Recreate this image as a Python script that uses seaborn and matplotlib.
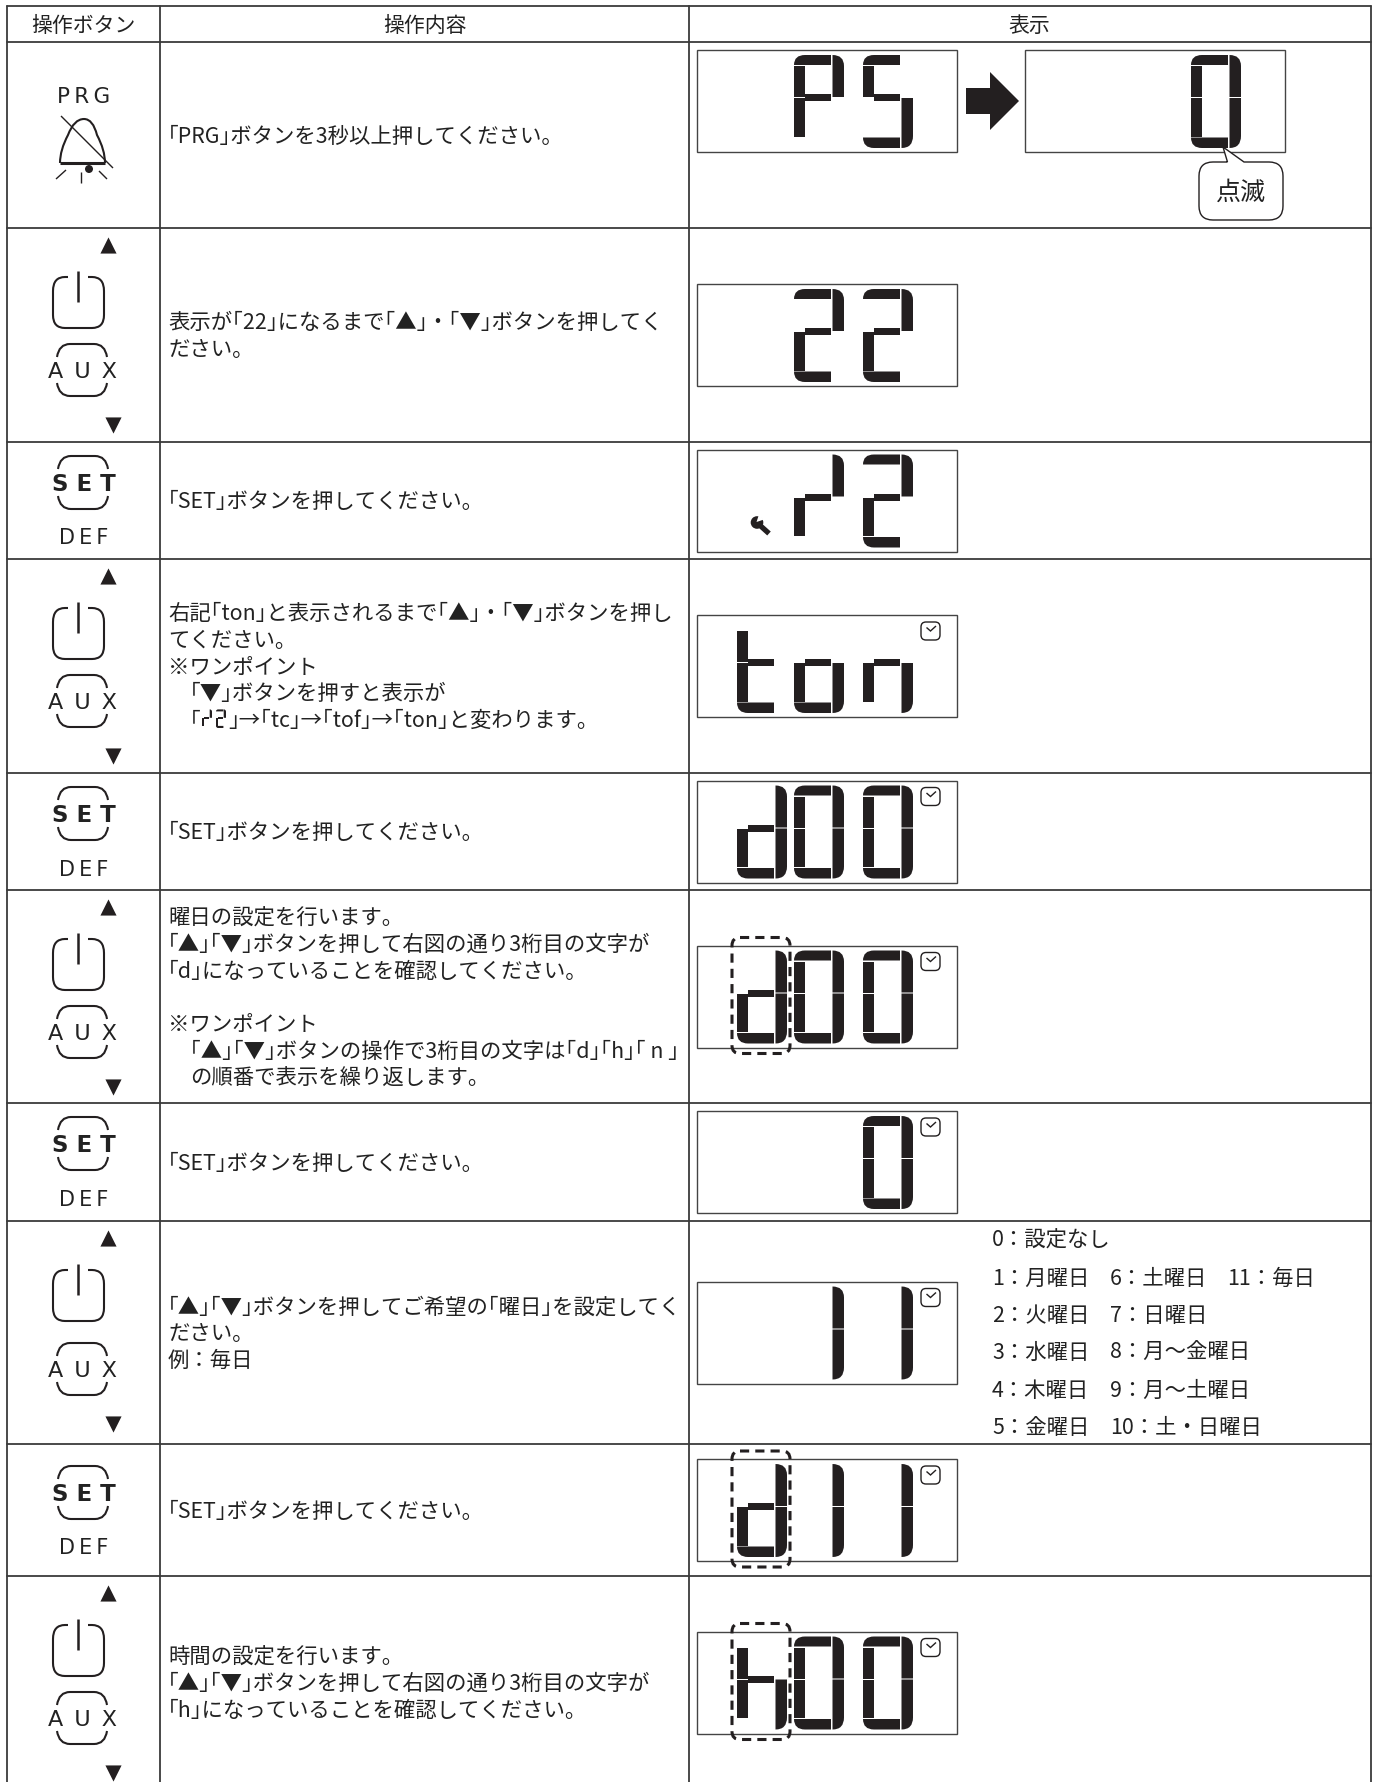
import numpy as np
import pandas as pd
import matplotlib
matplotlib.use('Agg')
import matplotlib.pyplot as plt
import seaborn as sns
from matplotlib.path import Path
from matplotlib.patches import PathPatch, Rectangle, FancyBboxPatch, Polygon, Circle

# TABLE CONTENT
header_labels = ['操作ボタン', '操作内容', '表示']
button_kinds = ['prg', 'updown', 'set', 'updown', 'set', 'updown', 'set', 'updown', 'set', 'updown']
op_lines = [
    ['｢PRG｣ボタンを3秒以上押してください。'],
    ['表示が｢22｣になるまで｢▲｣・｢▼｣ボタンを押してく', 'ださい。'],
    ['｢SET｣ボタンを押してください。'],
    ['右記｢ton｣と表示されるまで｢▲｣・｢▼｣ボタンを押し', 'てください。', '※ワンポイント',
     '　｢▼｣ボタンを押すと表示が', '　｢{r2}｣→｢tc｣→｢tof｣→｢ton｣と変わります。'],
    ['｢SET｣ボタンを押してください。'],
    ['曜日の設定を行います。', '｢▲｣｢▼｣ボタンを押して右図の通り3桁目の文字が',
     '｢d｣になっていることを確認してください。', '', '※ワンポイント',
     '　｢▲｣｢▼｣ボタンの操作で3桁目の文字は｢d｣｢h｣｢ n ｣', '　の順番で表示を繰り返します。'],
    ['｢SET｣ボタンを押してください。'],
    ['｢▲｣｢▼｣ボタンを押してご希望の｢曜日｣を設定してく', 'ださい。', '例：毎日'],
    ['｢SET｣ボタンを押してください。'],
    ['時間の設定を行います。', '｢▲｣｢▼｣ボタンを押して右図の通り3桁目の文字が',
     '｢h｣になっていることを確認してください。'],
]
display_strings = [' PS', ' 22', ' r2', 'ton', 'd00', 'd00', '  0', ' 11', 'd11', 'h00']
clock_rows = [3, 4, 5, 6, 7, 8, 9]
dashed_rows = [5, 8, 9]
weekday_col1 = ['0：設定なし', '1：月曜日', '2：火曜日', '3：水曜日', '4：木曜日', '5：金曜日']
weekday_col2 = ['', '6：土曜日', '7：日曜日', '8：月～金曜日', '9：月～土曜日', '10：土・日曜日']
weekday_col3 = ['', '11：毎日', '', '', '', '']

# which segments are lit for each glyph
glyph_segments = {'P': 'abfge', 'S': 'afgcd', '0': 'abcdef', '2': 'abged', 'r': 'egb', 't': 'fedg',
                  'o': 'egdc', 'n': 'egc', 'd': 'egdbc', '1': 'bc', 'h': 'fegc', ' ': ''}

# LAYOUT (pixels, y down)
col_edges = [7, 160, 689, 1371]
row_edges = [42, 228, 442, 559, 773, 890, 1103, 1221, 1444, 1576, 1789]
INK = '#231f20'
LINE = '#3a3a3a'
FONT_PT = 15.4
STEP = 26.7

sns.set_theme(style='white')
plt.rcParams['font.family'] = ['Noto Sans CJK JP', 'DejaVu Sans']

fig = plt.figure(figsize=(13.75, 17.82), dpi=100)
ax = fig.add_axes([0, 0, 1, 1])
ax.set_xlim(0, 1375)
ax.set_ylim(1782, 0)
ax.axis('off')

# grid lines through seaborn
grid_rows = []
for i, x in enumerate(col_edges):
    grid_rows += [(f'v{i}', x, 6), (f'v{i}', x, 1782)]
for i, y in enumerate([6] + row_edges[:-1]):
    grid_rows += [(f'h{i}', col_edges[0], y), (f'h{i}', col_edges[-1], y)]
grid_df = pd.DataFrame(grid_rows, columns=['line', 'x', 'y'])
sns.lineplot(data=grid_df, x='x', y='y', units='line', estimator=None, sort=False,
             color=LINE, linewidth=1.3, ax=ax, legend=False)
ax.set_xlim(0, 1375)
ax.set_ylim(1782, 0)
ax.axis('off')


def put_text(x, y_center, s, size=FONT_PT, ha='left', **kw):
    # baseline placing, so all the lines sit the same way
    ax.text(x, y_center + size * 100 / 72 * 0.36, s, fontsize=size, ha=ha, va='baseline', color='#222222', **kw)


def stroke(verts, codes=None, lw=1.5, fc='none', ec=INK, zorder=3):
    p = Path(np.array(verts, dtype=float), codes)
    ax.add_patch(PathPatch(p, fc=fc, ec=ec, lw=lw, zorder=zorder, capstyle='butt'))


# SEVEN SEGMENT GLYPHS
M, L, C, Z = Path.MOVETO, Path.LINETO, Path.CURVE3, Path.CLOSEPOLY
segments = {
    'a': ([(0, 15), (0, 5), (11, 5), (37, 5), (37, 15), (0, 15), (0, 15)], [M, C, C, L, L, L, Z]),
    'b': ([(38.5, 5), (50, 5), (50, 16), (50, 47), (38.5, 47), (38.5, 5)], [M, C, C, L, L, Z]),
    'c': ([(38.5, 48), (50, 48), (50, 86), (50, 98), (38.5, 98), (38.5, 48)], [M, L, L, C, C, Z]),
    'd': ([(0, 87.5), (37, 87.5), (37, 98), (11, 98), (0, 98), (0, 87.5), (0, 87.5)], [M, L, L, L, C, C, Z]),
    'e': ([(0, 48), (11, 48), (11, 86.5), (0, 86.5), (0, 48)], [M, L, L, L, Z]),
    'f': ([(0, 16), (11, 16), (11, 47), (0, 47), (0, 16)], [M, L, L, L, Z]),
    'g': ([(11.5, 44), (37, 44), (37, 51), (11.5, 51), (11.5, 44)], [M, L, L, L, Z]),
}


def draw_glyph(ch, x0, y0, scale=1.0):
    for seg in glyph_segments[ch]:
        verts, codes = segments[seg]
        v = np.array(verts, dtype=float) * scale + [x0, y0]
        ax.add_patch(PathPatch(Path(v, codes), fc=INK, ec='none', zorder=4))


def draw_display(x0, y0, text):
    ax.add_patch(Rectangle((x0, y0), 260, 102, fc='none', ec='#444444', lw=1.0, zorder=2))
    for ch, dx in zip(text, [40, 97, 166]):
        draw_glyph(ch, x0 + dx, y0)


def draw_clock(x0, y0):
    ax.add_patch(FancyBboxPatch((x0 + 228, y0 + 11), 11, 10, boxstyle='round,pad=4,rounding_size=5',
                                fc='white', ec=INK, lw=1.0, zorder=4))
    stroke([(x0 + 229.5, y0 + 12.5), (x0 + 233.5, y0 + 16), (x0 + 239, y0 + 11)], lw=1.0, zorder=6)


def draw_dashed(x0, y0):
    ax.add_patch(FancyBboxPatch((x0 + 43, y0), 42, 100, boxstyle='round,pad=8,rounding_size=8', fc='none',
                                ec=INK, lw=2.2, linestyle=(0, (3, 2)), zorder=5))


def draw_wrench(x0, y0):
    stroke([(x0 + 62, y0 + 75), (x0 + 72, y0 + 84)], lw=3.8, zorder=5)
    ax.add_patch(Circle((x0 + 60, y0 + 73), 6.3, fc=INK, ec='none', zorder=5))
    ax.add_patch(Polygon([(x0 + 59.5, y0 + 72.5), (x0 + 62, y0 + 65), (x0 + 67, y0 + 70)], fc='white', ec='none', zorder=6))


# BUTTON ICONS
def draw_arc_pair(x0, x1, y0, y1, y2, y3):
    stroke([(x0, y1), (x0 + 2, y0), (x0 + 13, y0), (x1 - 13, y0), (x1 - 2, y0), (x1, y1)], [M, C, C, L, C, C])
    stroke([(x0, y2), (x0 + 2, y3), (x0 + 13, y3), (x1 - 13, y3), (x1 - 2, y3), (x1, y2)], [M, C, C, L, C, C])


def draw_updown(top, low=0):
    sns.scatterplot(x=[108], y=[top + 17], marker='^', s=135, color=INK, linewidth=0, ax=ax, zorder=4)
    sns.scatterplot(x=[113], y=[top + 197 + low], marker='v', s=135, color=INK, linewidth=0, ax=ax, zorder=4)
    y = top
    stroke([(68, y + 49), (65, y + 49), (53, y + 49), (53, y + 63), (53, y + 87), (53, y + 100), (65, y + 100),
            (92, y + 100), (104, y + 100), (104, y + 87), (104, y + 63), (104, y + 49), (92, y + 49), (88, y + 49)],
           [M, L, C, C, L, C, C, L, C, C, L, C, C, L])
    stroke([(78, y + 43), (78, y + 74)], lw=1.8)
    draw_arc_pair(57, 107, y + 116 + low, y + 129 + low, y + 155 + low, y + 168 + low)
    put_text(82.5, y + 142 + low, 'A\u2002U\u2002X', size=16, ha='center', family='DejaVu Sans')


def draw_set(top):
    draw_arc_pair(58, 108, top + 14, top + 27, top + 54, top + 67)
    put_text(84, top + 41, 'S E T', size=16.5, ha='center', family='DejaVu Sans', fontweight='bold')
    put_text(84, top + 95, 'D\u2009E\u2009F', size=15, ha='center', family='DejaVu Sans')


def draw_prg():
    put_text(84, 95.5, 'P\u2009R\u2009G', size=15.5, ha='center', family='DejaVu Sans')
    # bell
    stroke([(60, 163), (60, 150), (68, 135), (74, 119), (84, 119), (93, 119), (97, 135), (105, 150), (105, 163)],
           [M, C, C, C, C, C, C, C, C], lw=1.5)
    stroke([(60, 163), (105, 163)], lw=2.2)
    stroke([(61, 116), (113, 168)], lw=1.0)
    ax.add_patch(Circle((89, 169), 4, fc=INK, ec='none', zorder=3))
    for seg in [[(56, 179), (66, 170)], [(81, 172), (81, 183)], [(107, 179), (99, 171)]]:
        stroke(seg, lw=1.0)


# HEADER
put_text(83, 24, header_labels[0], size=15, ha='center')
put_text(425, 24, header_labels[1], size=15, ha='center')
put_text(1029, 24, header_labels[2], size=15, ha='center')

# ROWS
for i, kind in enumerate(button_kinds):
    top, bottom = row_edges[i], row_edges[i + 1]
    center = (top + bottom) / 2
    if kind == 'prg':
        draw_prg()
    elif kind == 'updown':
        draw_updown(top, low=6 if i == 7 else 0)
    else:
        draw_set(top + (8 if i == 8 else 0))

    lines = op_lines[i]
    for j, line in enumerate(lines):
        y = center + (j - (len(lines) - 1) / 2) * STEP
        x = 168
        if line.startswith('　'):
            x = 190
            line = line[1:]
        if '{r2}' in line:
            left, right = line.split('{r2}')
            put_text(x, y, left)
            draw_glyph('r', 202, y - 11, 0.2)
            draw_glyph('2', 216, y - 11, 0.2)
            put_text(228, y, right)
        elif line:
            put_text(x, y, line)

    box_y = 50 if i == 0 else center - 51
    draw_display(697, box_y, display_strings[i])
    if i in clock_rows:
        draw_clock(697, box_y)
    if i in dashed_rows:
        draw_dashed(697, box_y)
    if display_strings[i] == ' r2':
        draw_wrench(697, box_y)

# first row arrow, second display, callout
ax.add_patch(Polygon([(966, 88), (990, 88), (990, 72), (1019, 101), (990, 130), (990, 114), (966, 114)],
                     fc=INK, ec='none', zorder=3))
draw_display(1025, 50, '  0')
cx0, cx1, cy0, cy1, r = 1199, 1283, 162, 220, 14
stroke([(1227.5, cy0), (cx0 + r, cy0), (cx0, cy0), (cx0, cy0 + r), (cx0, cy1 - r), (cx0, cy1), (cx0 + r, cy1),
        (cx1 - r, cy1), (cx1, cy1), (cx1, cy1 - r), (cx1, cy0 + r), (cx1, cy0), (cx1 - r, cy0), (1244, cy0),
        (1223, 147), (1227.5, cy0)], [M, L, C, C, L, C, C, L, C, C, L, C, C, L, L, L], lw=1.0, fc='white', zorder=5)
put_text(1241, 191, '点滅', size=18, ha='center', zorder=6)

# weekday list in row 8
weekday_y = [1239, 1277, 1314, 1351, 1389, 1426]
for x, col in zip([992, 1110, 1227], [weekday_col1, weekday_col2, weekday_col3]):
    for y, s in zip(weekday_y, col):
        if s:
            put_text(x, y, s)

fig.savefig('out.png', dpi=100, facecolor='white')
